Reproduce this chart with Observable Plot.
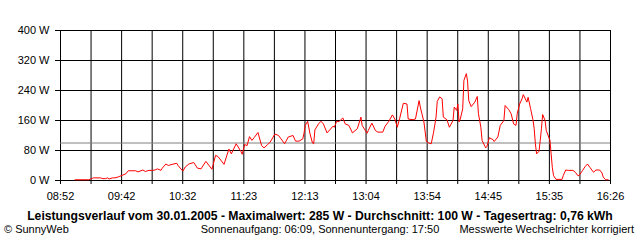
<!DOCTYPE html>
<html><head><meta charset="utf-8">
<script src="https://cdn.jsdelivr.net/npm/d3@7"></script>
<script src="https://cdn.jsdelivr.net/npm/@observablehq/plot@0.6"></script>
<style>
html,body{margin:0;padding:0;background:#fff;}
#wrap{position:relative;width:640px;height:240px;font-family:"Liberation Sans",Arial,sans-serif;font-size:11px;color:#000;overflow:hidden;}
#chart{position:absolute;left:0;top:0;}
.t{position:absolute;white-space:nowrap;line-height:13px;}
</style></head><body>
<div id="wrap">
<div id="chart"></div>
<div class="t" id="title" style="left:0;width:640px;text-align:center;top:209px;font-weight:bold;font-size:12.2px;line-height:14px;"></div>
<div class="t" id="copy" style="left:4px;top:223px;"></div>
<div class="t" id="sun" style="left:0;width:640px;text-align:center;top:223px;"></div>
<div class="t" id="note" style="right:6px;top:223px;"></div>
</div>
<script>
// Measured values (time of day, power in W)
const times = [
"09:04","09:15","09:17","09:19","09:25","09:27","09:29","09:31","09:32","09:35",
"09:37","09:40","09:43","09:46","09:48","09:54","09:56","10:00","10:02","10:05",
"10:08","10:10","10:12","10:15","10:16","10:19","10:21","10:24","10:28","10:29",
"10:33","10:35","10:38","10:42","10:45","10:48","10:52","10:57","11:00","11:02",
"11:07","11:11","11:13","11:17","11:21","11:22","11:24","11:26","11:28","11:30",
"11:32","11:35","11:38","11:40","11:43","11:45","11:49","11:52","11:54","11:57",
"12:00","12:04","12:06","12:09","12:12","12:13","12:14","12:16","12:18","12:20",
"12:21","12:22","12:25","12:27","12:29","12:32","12:37","12:38","12:40","12:42",
"12:45","12:47","12:50","12:53","12:57","13:00","13:01","13:05","13:06","13:09",
"13:12","13:14","13:18","13:20","13:23","13:26","13:28","13:30","13:32","13:35",
"13:38","13:39","13:43","13:45","13:48","13:49","13:52","13:54","13:56","13:58",
"14:00","14:02","14:03","14:05","14:07","14:08","14:11","14:13","14:16","14:17",
"14:19","14:20","14:21","14:22","14:24","14:25","14:27","14:28","14:29","14:31",
"14:34","14:36","14:37","14:39","14:40","14:43","14:44","14:46","14:49","14:50",
"14:53","14:55","14:58","14:59","15:02","15:04","15:06","15:08","15:09","15:11",
"15:13","15:14","15:17","15:18","15:20","15:22","15:23","15:24","15:25","15:27",
"15:28","15:29","15:30","15:32","15:33","15:35","15:36","15:37","15:38","15:39",
"15:41","15:46","15:47","15:49","15:51","15:55","15:57","15:59","16:00","16:03",
"16:05","16:07","16:09","16:12","16:14","16:17","16:19","16:20","16:22","16:24"
];
const watts = [
2,2,4,7,7,5,5,7,4,7,
7,10,14,18,26,26,23,28,24,27,
27,28,31,27,33,44,40,43,46,40,
25,36,44,48,33,31,51,30,67,64,
43,84,71,98,77,70,96,93,117,107,
115,128,93,87,96,102,124,120,111,98,
116,120,105,105,111,126,147,158,124,100,
98,135,151,158,151,127,145,142,158,157,
167,151,147,127,138,169,147,126,133,153,
133,129,129,145,158,175,164,142,166,206,
204,164,162,164,213,196,156,104,100,98,
129,169,211,223,218,169,162,142,160,196,
187,204,156,164,191,267,285,265,213,197,
209,224,178,142,107,87,91,114,109,104,
116,147,160,200,189,178,151,147,178,204,
218,229,209,222,192,162,138,98,71,78,
107,138,176,160,133,116,108,71,34,13,
3,3,13,28,27,27,22,13,13,27,
37,44,35,22,28,28,20,9,2,2
];
const xTickLabels = ["08:52","09:42","10:32","11:23","12:13","13:04","13:54","14:45","15:35","16:26"];
const yTicks = [0,80,160,240,320,400];
const yUnit = "W";
const average = 100;
const titleText = "Leistungsverlauf vom 30.01.2005 - Maximalwert: 285 W - Durchschnitt: 100 W - Tagesertrag: 0,76 kWh";
const copyText = "© SunnyWeb";
const sunText = "Sonnenaufgang: 06:09, Sonnenuntergang: 17:50";
const noteText = "Messwerte Wechselrichter korrigiert";

const toMin = s => { const [h, m] = s.split(":").map(Number); return h * 60 + m; };
const data = times.map((t, i) => ({t: toMin(t), w: watts[i]}));
const x0 = toMin(xTickLabels[0]), x1 = toMin(xTickLabels[xTickLabels.length - 1]);
const nGrid = (xTickLabels.length - 1) * 2;
const gridX = d3.range(nGrid + 1).map(k => x0 + k * (x1 - x0) / nGrid);
const fmtX = d => { const k = Math.round((d - x0) / (x1 - x0) * nGrid); return k % 2 === 0 ? xTickLabels[k / 2] : ""; };

const chart = Plot.plot({
  width: 640, height: 205,
  marginLeft: 60, marginRight: 30, marginTop: 30, marginBottom: 25,
  style: {fontFamily: '"Liberation Sans", Arial, sans-serif', fontSize: "11px", background: "white", color: "black", overflow: "visible"},
  x: {type: "linear", domain: [x0, x1]},
  y: {domain: [0, 400]},
  marks: [
    Plot.ruleY(yTicks, {stroke: "black", strokeWidth: 1}),
    Plot.ruleX(gridX, {stroke: "black", strokeWidth: 1}),
    Plot.ruleY([average], {stroke: "#808080", strokeWidth: 1}),
    Plot.line(data, {x: "t", y: "w", stroke: "#ff0000", strokeWidth: 1}),
    Plot.axisX({ticks: gridX, tickSize: 4, tickPadding: 8, tickFormat: fmtX, label: null, stroke: "black", strokeOpacity: 1}),
    Plot.axisY({ticks: yTicks, tickSize: 5, tickPadding: 6, tickFormat: d => `${d} ${yUnit}`, label: null, stroke: "black", strokeOpacity: 1})
  ]
});
document.getElementById("chart").appendChild(chart);
document.getElementById("title").textContent = titleText;
document.getElementById("copy").textContent = copyText;
document.getElementById("sun").textContent = sunText;
document.getElementById("note").textContent = noteText;
</script>
</body></html>
